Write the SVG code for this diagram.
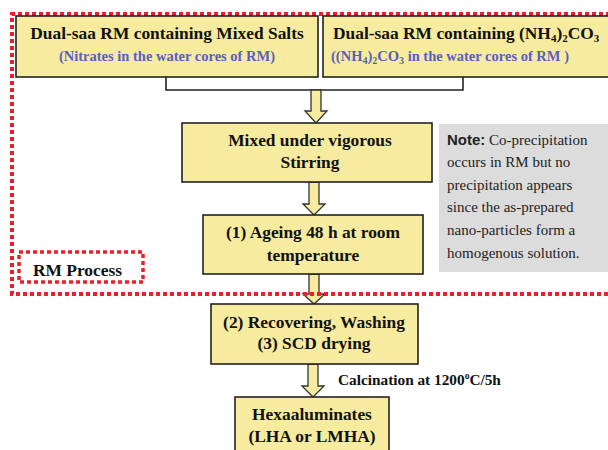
<svg xmlns="http://www.w3.org/2000/svg" width="608" height="450" viewBox="0 0 608 450">
<defs>
<style>
.box{fill:#f6eb9e;stroke:#222;stroke-width:1.6}
.arr{fill:#f6eb9e;stroke:#333;stroke-width:1.3}
.t{font-family:"Liberation Serif","Times New Roman",serif;font-weight:bold;font-size:17.4px;fill:#111;text-anchor:middle}
.tl{font-family:"Liberation Serif","Times New Roman",serif;font-weight:bold;font-size:17.4px;fill:#111;text-anchor:start}
.s{font-family:"Liberation Serif","Times New Roman",serif;font-weight:bold;font-size:14.5px;fill:#5a5fbe}
.n{font-family:"Liberation Serif","Times New Roman",serif;font-size:15px;fill:#222}
.red{fill:none;stroke:#e8202a;stroke-width:4;stroke-dasharray:4 3}
</style>
</defs>
<rect width="608" height="450" fill="#fff"/>
<g id="note">
<rect x="439" y="124" width="175" height="148" fill="#dcdcdc"/>
<text class="n" x="447" y="145"><tspan font-family="Liberation Sans,Arial,sans-serif" font-weight="bold">Note:</tspan> Co-precipitation</text>
<text class="n" x="447" y="167">occurs in RM but no</text>
<text class="n" x="447" y="190">precipitation appears</text>
<text class="n" x="447" y="212">since the as-prepared</text>
<text class="n" x="447" y="235">nano-particles form a</text>
<text class="n" x="447" y="258">homogenous solution.</text>
</g>
<g id="connectors">
<path d="M166 77 V90 H463 V77" fill="none" stroke="#222" stroke-width="1.6"/>
<path class="arr" d="M311 90 H321 V111 H327 L316 123 L305 111 H311 Z"/>
<path class="arr" d="M309 182 H319 V204 H325 L314 215 L303 204 H309 Z"/>
<path class="arr" d="M309 274 H319 V294 H325 L314 304 L303 294 H309 Z"/>
<path class="arr" d="M308 364 H318 V386 H324 L313 397 L302 386 H308 Z"/>
<text class="tl" x="338" y="385" style="font-size:15.3px">Calcination at 1200<tspan font-size="9.5" dy="-6">o</tspan><tspan dy="6">C/5h</tspan></text>
</g>
<g id="rmprocess">
<path class="red" d="M610 14 H12 V294 H610"/>
<rect class="red" x="19" y="252" width="124" height="30" style="stroke-width:3.5px"/>
<text class="tl" x="33" y="276">RM Process</text>
</g>
<g id="box1">
<rect class="box" x="16" y="16" width="302" height="61"/>
<text class="t" x="167" y="39">Dual-saa RM containing Mixed Salts</text>
<text class="s" x="167" y="61" text-anchor="middle">(Nitrates in the water cores of RM)</text>
</g>
<g id="box2">
<rect class="box" x="323" y="16" width="300" height="61"/>
<text class="tl" x="333" y="39">Dual-saa RM containing (NH<tspan font-size="11" dy="3">4</tspan><tspan dy="-3">)</tspan><tspan font-size="11" dy="3">2</tspan><tspan dy="-3">CO</tspan><tspan font-size="11" dy="3">3</tspan></text>
<text class="s" x="331" y="61">((NH<tspan font-size="10" dy="3">4</tspan><tspan dy="-3">)</tspan><tspan font-size="10" dy="3">2</tspan><tspan dy="-3">CO</tspan><tspan font-size="10" dy="3">3</tspan><tspan dy="-3"> in the water cores of RM )</tspan></text>
</g>
<g id="box3">
<rect class="box" x="182" y="123" width="250" height="59"/>
<text class="t" x="310" y="146">Mixed under vigorous</text>
<text class="t" x="310" y="168">Stirring</text>
</g>
<g id="box4">
<rect class="box" x="203" y="215" width="220" height="59"/>
<text class="t" x="313" y="238">(1) Ageing 48 h at room</text>
<text class="t" x="313" y="261">temperature</text>
</g>
<g id="box5">
<rect class="box" x="211" y="304" width="207" height="60"/>
<text class="t" x="314" y="328">(2) Recovering, Washing</text>
<text class="t" x="314" y="349">(3) SCD drying</text>
</g>
<g id="box6">
<rect class="box" x="235" y="397" width="154" height="60"/>
<text class="t" x="312" y="420">Hexaaluminates</text>
<text class="t" x="312" y="442">(LHA or LMHA)</text>
</g>
</svg>
